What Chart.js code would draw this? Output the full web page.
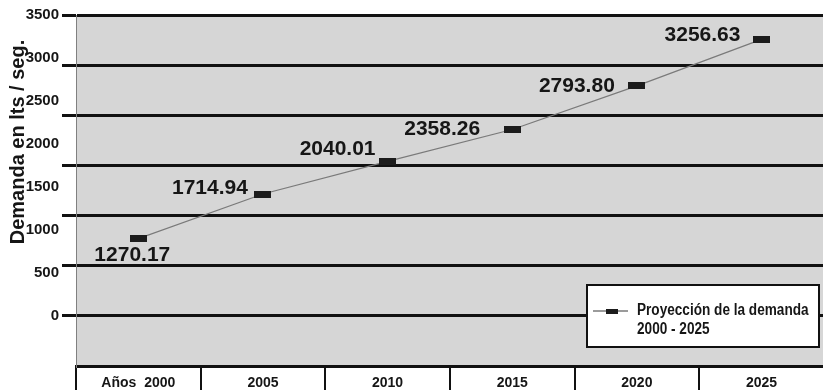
<!DOCTYPE html>
<html>
<head>
<meta charset="utf-8">
<script src="https://cdn.jsdelivr.net/npm/chart.js@4.4.1/dist/chart.umd.min.js"></script>
<style>
  body { margin: 0; background: #fff; }
  #wrap { width: 823px; height: 390px; overflow: hidden; }
</style>
</head>
<body>
<div id="wrap"><canvas id="myChart" width="833" height="390"></canvas></div>
<script>
'use strict';
// Data
var years = ['2000', '2005', '2010', '2015', '2020', '2025'];
var demand = [1270.17, 1714.94, 2040.01, 2358.26, 2793.80, 3256.63];
var yTickLabels = [0, 500, 1000, 1500, 2000, 2500, 3000, 3500];
var seriesName = ['Proyección de la demanda', '2000 - 2025'];
var yTitle = 'Demanda en lts / seg.';
var xTitle = 'Años';

var boldFont = '"Liberation Sans", Arial, sans-serif';

// flat black bar used as the marker
var marker = document.createElement('canvas');
marker.width = 17;
marker.height = 7;
var mctx = marker.getContext('2d');
mctx.fillStyle = '#1c1c1c';
mctx.fillRect(0, 0, 17, 7);

var legendMarker = document.createElement('canvas');
legendMarker.width = 12;
legendMarker.height = 5;
legendMarker.getContext('2d').fillStyle = '#1c1c1c';
legendMarker.getContext('2d').fillRect(0, 0, 12, 5);

// gray plot background
var plotBg = {
  id: 'plotBg',
  beforeDraw: function (chart) {
    var a = chart.chartArea;
    var ctx = chart.ctx;
    ctx.save();
    ctx.fillStyle = '#d6d6d6';
    ctx.fillRect(a.left, a.top, a.right - a.left, a.bottom - a.top);
    ctx.restore();
  }
};

// value labels next to each marker
var valueLabels = {
  id: 'valueLabels',
  afterDatasetsDraw: function (chart, args, opts) {
    var ctx = chart.ctx;
    var meta = chart.getDatasetMeta(0);
    ctx.save();
    ctx.font = 'bold 21px ' + boldFont;
    ctx.fillStyle = '#161616';
    ctx.textAlign = 'center';
    ctx.textBaseline = 'middle';
    meta.data.forEach(function (pt, i) {
      var off = opts.offsets[i];
      ctx.fillText(demand[i].toFixed(2), pt.x + off[0], pt.y + off[1]);
    });
    ctx.restore();
  }
};

// rotated y title
var yTitlePlugin = {
  id: 'yTitlePlugin',
  afterDraw: function (chart) {
    var ctx = chart.ctx;
    ctx.save();
    ctx.translate(18, 142);
    ctx.rotate(-Math.PI / 2);
    ctx.font = 'bold 20px ' + boldFont;
    ctx.fillStyle = '#161616';
    ctx.textAlign = 'center';
    ctx.textBaseline = 'middle';
    ctx.fillText(yTitle, 0, 0);
    ctx.restore();
  }
};

// boxed legend inside the plot
var boxLegend = {
  id: 'boxLegend',
  afterDatasetsDraw: function (chart) {
    var ctx = chart.ctx;
    var ds = chart.data.datasets[0];
    var x = 587, y = 285, w = 232, h = 62;
    ctx.save();
    ctx.fillStyle = '#fff';
    ctx.fillRect(x, y, w, h);
    ctx.strokeStyle = '#111';
    ctx.lineWidth = 2;
    ctx.strokeRect(x, y, w, h);
    ctx.strokeStyle = ds.borderColor;
    ctx.lineWidth = 1.5;
    ctx.beginPath();
    ctx.moveTo(x + 6, y + 26);
    ctx.lineTo(x + 41, y + 26);
    ctx.stroke();
    ctx.drawImage(legendMarker, x + 19, y + 24);
    ctx.translate(x + 50, y + 26);
    ctx.scale(0.85, 1);
    ctx.font = 'bold 16px ' + boldFont;
    ctx.fillStyle = '#161616';
    ctx.textAlign = 'left';
    ctx.textBaseline = 'middle';
    ds.label.forEach(function (line, i) {
      ctx.fillText(line, 0, i * 19);
    });
    ctx.restore();
  }
};

var ctx = document.getElementById('myChart').getContext('2d');
var chart = new Chart(ctx, {
  type: 'line',
  data: {
    labels: years,
    datasets: [{
      label: seriesName,
      data: demand,
      borderColor: '#7a7a7a',
      borderWidth: 1.2,
      pointStyle: marker,
      pointRadius: 8,
      tension: 0
    }]
  },
  options: {
    responsive: false,
    animation: false,
    layout: { padding: { top: 15, right: 0, left: 0, bottom: 0 } },
    plugins: {
      legend: { display: false },
      tooltip: { enabled: false },
      valueLabels: {
        offsets: [[-6, 17], [-53, -6], [-50, -12], [-70, 0], [-60, 0], [-59, -4]]
      }
    },
    scales: {
      x: {
        type: 'category',
        offset: true,
        grid: {
          offset: true,
          drawOnChartArea: false,
          color: '#111',
          lineWidth: 2,
          tickLength: 24
        },
        border: { display: true, color: '#111', width: 3 },
        ticks: {
          padding: -15,
          color: '#161616',
          font: { family: boldFont, size: 14, weight: 'bold' },
          maxRotation: 0,
          callback: function (val, i) {
            return i === 0 ? xTitle + '  ' + years[i] : years[i];
          }
        },
        afterFit: function (s) { s.height = 24; }
      },
      y: {
        type: 'linear',
        position: 'left',
        weight: 0,
        min: 0,
        max: 3500,
        ticks: { stepSize: 500, display: false },
        grid: {
          color: function (c) { return c.tick && c.tick.value === 0 ? 'rgba(0,0,0,0)' : '#111'; },
          lineWidth: 3,
          tickLength: 14
        },
        border: { display: true, color: '#808080', width: 1 },
        afterFit: function (s) { s.width = 14; }
      },
      yLab: {
        type: 'linear',
        position: 'left',
        weight: 1,
        min: -583.33,
        max: 3500,
        grid: { display: false, drawTicks: false },
        border: { display: false },
        afterBuildTicks: function (s) {
          s.ticks = yTickLabels.map(function (v) { return { value: v }; });
        },
        ticks: {
          padding: 3,
          color: '#161616',
          font: { family: boldFont, size: 15, weight: 'bold' },
          callback: function (v) { return String(v); }
        },
        afterFit: function (s) { s.width = 62; }
      }
    }
  },
  plugins: [plotBg, valueLabels, yTitlePlugin, boxLegend]
});
</script>
</body>
</html>
